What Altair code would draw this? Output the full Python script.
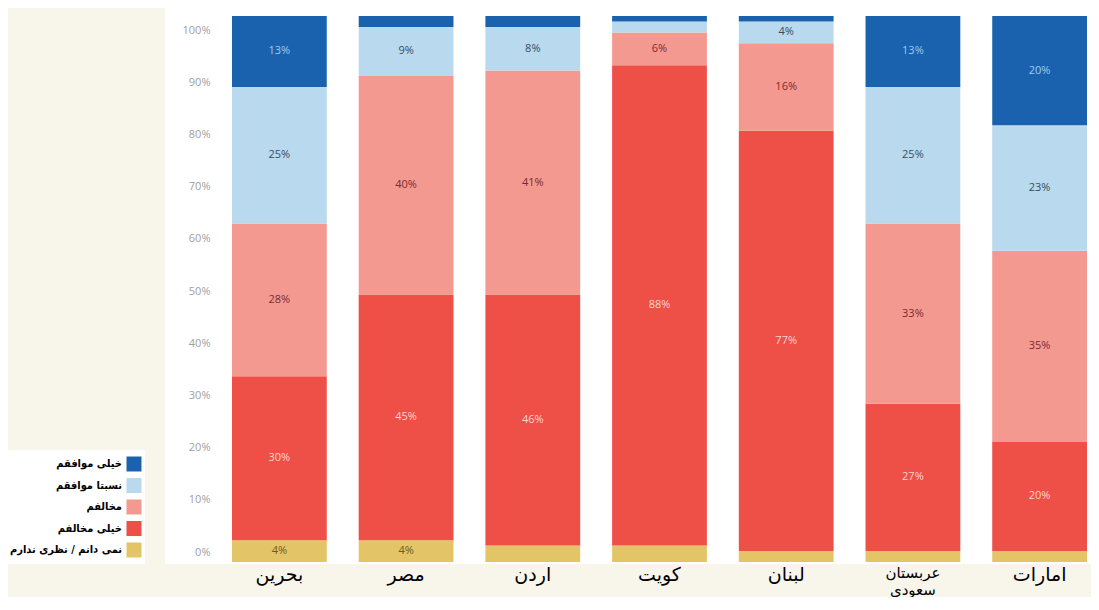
import altair as alt
import pandas as pd

countries = ["بحرین", "مصر", "اردن", "کویت", "لبنان", "عربستان سعودی", "امارات"]
# stacking order, bottom to top
categories = ["نمی دانم / نظری ندارم", "خیلی مخالفم", "مخالفم", "نسبتا موافقم", "خیلی موافقم"]

dont_know = [4, 4, 3, 3, 2, 2, 2]
strongly_disagree = [30, 45, 46, 88, 77, 27, 20]
disagree = [28, 40, 41, 6, 16, 33, 35]
somewhat_agree = [25, 9, 8, 2, 4, 25, 23]
strongly_agree = [13, 2, 2, 1, 1, 13, 20]

series = [dont_know, strongly_disagree, disagree, somewhat_agree, strongly_agree]
y_ticks = list(range(0, 101, 10))

bar_colors = ["#e3c466", "#ee4f47", "#f4998f", "#b9daee", "#1a62ae"]
text_colors = ["#6b5a2a", "#fcd6cf", "#7a2a32", "#3b4a5c", "#9ccdf3"]

rows = []
for i, c in enumerate(countries):
    for k, (cat, vals) in enumerate(zip(categories, series)):
        rows.append({"country": c, "cat": cat, "k": k, "value": vals[i]})
df = pd.DataFrame(rows)

W, H = 863, 546
LW = 137

# the printed axis of the original sits slightly inside the bar span
y_axis = alt.Axis(values=y_ticks, labelExpr="datum.value + '%'", title=None, domain=False,
                  ticks=False, grid=False, labelColor="#a0a0a0", labelFontSize=11,
                  labelPadding=18, zindex=1, labelFont="Open Sans", orient="left")
x_enc = alt.X("country:N", sort=countries,
              scale=alt.Scale(paddingInner=0.252, paddingOuter=0.0315),
              axis=alt.Axis(title=None, labelExpr="split(datum.label, ' ')",
                            labelFontSize={"condition": {"test": "indexof(datum.label, ' ') > 0", "value": 15}, "value": 19},
                            labelColor="black", labelFont="DejaVu Sans", labelPadding=3,
                            labelLineHeight=17, ticks=False, domain=False, labelAngle=0, zindex=1))

one = pd.DataFrame({"a": [0]})
bg = alt.Chart(one).mark_rect(color="white").encode(
    x=alt.value(-63), x2=alt.value(W), y=alt.value(-8), y2=alt.value(H + 2))

tick_df = pd.DataFrame({"t": y_ticks})
tick_layer = alt.Chart(tick_df).mark_point(opacity=0).encode(
    x=alt.value(0),
    y=alt.Y("t:Q", scale=alt.Scale(domain=[0, 100], range=[536, 14]), axis=y_axis),
)

base = alt.Chart(df)
bars = base.mark_bar().encode(
    x=x_enc,
    y=alt.Y("value:Q", stack="zero", scale=alt.Scale(domain=[0, 100]), axis=None),
    color=alt.Color("cat:N", scale=alt.Scale(domain=categories, range=bar_colors), legend=None),
    order=alt.Order("k:Q", sort="ascending"),
)

labels = base.transform_stack(
    stack="value", groupby=["country"], sort=[alt.SortField("k", order="ascending")], as_=["y0", "y1"]
).transform_calculate(
    mid="(datum.y0 + datum.y1) / 2", label="datum.value + '%'"
).transform_filter("datum.value >= 4").mark_text(fontSize=11, font="Open Sans").encode(
    x=x_enc,
    y=alt.Y("mid:Q", scale=alt.Scale(domain=[0, 100]), axis=None),
    text=alt.Text("label:N"),
    color=alt.Color("cat:N", scale=alt.Scale(domain=categories, range=text_colors), legend=None),
)

main = alt.layer(bg, tick_layer, alt.layer(bars, labels).resolve_scale(color="independent")).resolve_scale(
    y="independent", color="independent").properties(width=W, height=H)

legend_order = categories[::-1]
leg_df = pd.DataFrame({"cat": legend_order})
leg_y = alt.Y("cat:N", sort=legend_order, axis=None,
              scale=alt.Scale(type="point", range=[448, 534], padding=0))
leg_bg = alt.Chart(one).mark_rect(color="white").encode(
    x=alt.value(0), x2=alt.value(LW), y=alt.value(434), y2=alt.value(H + 2))
leg_sq = alt.Chart(leg_df).mark_square(size=225, opacity=1).encode(
    y=leg_y, x=alt.value(126),
    color=alt.Color("cat:N", scale=alt.Scale(domain=categories, range=bar_colors), legend=None))
leg_tx = alt.Chart(leg_df).mark_text(align="right", fontSize=11, fontWeight="bold",
                                     font="DejaVu Sans Condensed", color="black").encode(
    y=leg_y, x=alt.value(114), text="cat:N")
legend = alt.layer(leg_bg, leg_sq, leg_tx).properties(width=LW, height=H)

chart = alt.hconcat(legend, main, spacing=83, bounds="flush").configure_view(
    stroke=None
).properties(
    background="#f8f5ea", padding={"left": 0, "top": 0, "right": 0, "bottom": 0}
)

chart.save("out.html", embed_options={"renderer": "svg", "actions": False})
